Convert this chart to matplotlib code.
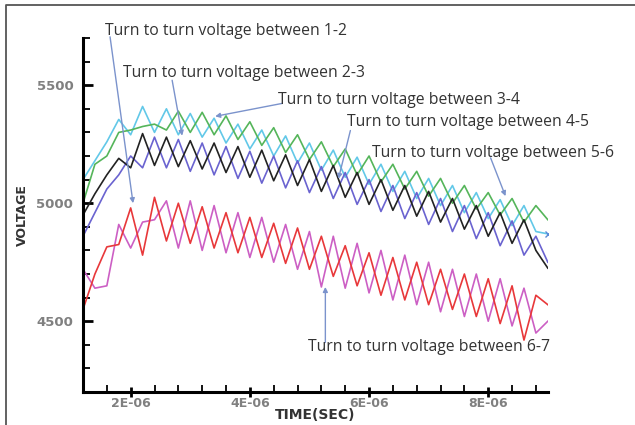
import matplotlib.pyplot as plt
from matplotlib.ticker import MultipleLocator

# time samples (microseconds) and turn-to-turn voltages
time_us = [1.2, 1.4, 1.6, 1.8, 2.0, 2.2, 2.4, 2.6, 2.8, 3.0,
           3.2, 3.4, 3.6, 3.8, 4.0, 4.2, 4.4, 4.6, 4.8, 5.0,
           5.2, 5.4, 5.6, 5.8, 6.0, 6.2, 6.4, 6.6, 6.8, 7.0,
           7.2, 7.4, 7.6, 7.8, 8.0, 8.2, 8.4, 8.6, 8.8, 9.0]

v_cyan = [5100, 5180, 5260, 5355, 5290, 5410, 5300, 5400, 5290, 5380,
          5280, 5360, 5255, 5335, 5230, 5310, 5200, 5285, 5170, 5255,
          5140, 5225, 5110, 5195, 5080, 5165, 5050, 5135, 5020, 5105,
          4990, 5075, 4960, 5045, 4935, 5015, 4905, 4990, 4880, 4870]
v_green = [5000, 5165, 5200, 5300, 5310, 5325, 5335, 5310, 5390, 5300,
           5385, 5290, 5370, 5270, 5345, 5245, 5320, 5215, 5290, 5185,
           5260, 5155, 5230, 5120, 5200, 5090, 5165, 5060, 5135, 5030,
           5105, 5000, 5075, 4975, 5045, 4950, 5020, 4920, 4990, 4930]
v_black = [4950, 5040, 5120, 5190, 5150, 5295, 5160, 5280, 5155, 5265,
           5145, 5255, 5130, 5240, 5110, 5225, 5095, 5205, 5075, 5185,
           5050, 5160, 5025, 5130, 4995, 5100, 4970, 5075, 4945, 5050,
           4920, 5020, 4890, 4990, 4860, 4960, 4830, 4930, 4800, 4725]
v_blue = [4860, 4960, 5060, 5120, 5200, 5150, 5280, 5150, 5270, 5135,
          5255, 5120, 5240, 5105, 5220, 5085, 5200, 5065, 5180, 5045,
          5155, 5020, 5130, 4995, 5100, 4965, 5075, 4935, 5045, 4910,
          5020, 4880, 4990, 4850, 4960, 4820, 4925, 4780, 4860, 4750]
v_red = [4550, 4700, 4815, 4825, 4980, 4780, 5025, 4840, 5000, 4830,
         4985, 4810, 4960, 4790, 4940, 4770, 4915, 4745, 4895, 4720,
         4860, 4690, 4820, 4650, 4790, 4610, 4770, 4590, 4750, 4570,
         4720, 4550, 4700, 4520, 4680, 4490, 4650, 4420, 4610, 4570]
v_magenta = [4720, 4640, 4650, 4910, 4810, 4920, 4930, 5010, 4810, 5010,
             4800, 4990, 4790, 4960, 4770, 4940, 4750, 4910, 4720, 4880,
             4645, 4860, 4640, 4830, 4620, 4800, 4590, 4780, 4570, 4750,
             4540, 4720, 4520, 4700, 4500, 4680, 4480, 4640, 4450, 4500]

xticks = [2e-6, 4e-6, 6e-6, 8e-6]
xtick_labels = ['2E-06', '4E-06', '6E-06', '8E-06']
yticks = [4500, 5000, 5500]
ytick_labels = ['4500', '5000', '5500']

t = [v * 1e-6 for v in time_us]

fig = plt.figure(figsize=(6.35, 4.25), dpi=100)
ax = fig.add_axes([0.1307, 0.0776, 0.732, 0.833])

ax.plot(t, v_magenta, color='#cc5fc4', lw=1.2)
ax.plot(t, v_red, color='#e8383a', lw=1.2)
ax.plot(t, v_cyan, color='#62c8e8', lw=1.2)
ax.plot(t, v_green, color='#55b55a', lw=1.2)
ax.plot(t, v_blue, color='#6a63d0', lw=1.2)
ax.plot(t, v_black, color='#222222', lw=1.2)
ax.plot(t[-1:], v_cyan[-1:], 'x', color='#5a8ad8', ms=4, mew=1)

ax.set_xlim(1.2e-6, 9.0e-6)
ax.set_ylim(4200, 5700)
for s in ['top', 'right']:
    ax.spines[s].set_visible(False)
for s in ['left', 'bottom']:
    ax.spines[s].set_linewidth(2.2)

ax.set_xticks(xticks)
ax.set_xticklabels(xtick_labels)
ax.set_yticks(yticks)
ax.set_yticklabels(ytick_labels)
ax.xaxis.set_minor_locator(MultipleLocator(0.4e-6))
ax.yaxis.set_minor_locator(MultipleLocator(100))
ax.tick_params(axis='x', which='major', direction='inout', length=7, width=2, pad=0)
ax.tick_params(axis='y', which='major', direction='in', length=7, width=2, pad=7)
ax.tick_params(which='minor', direction='in', length=5, width=1.3)
ax.tick_params(axis='y', labelsize=9.5, labelcolor='#808080')
ax.tick_params(axis='x', labelsize=9, labelcolor='#808080')
for lab in ax.get_xticklabels() + ax.get_yticklabels():
    lab.set_fontweight('bold')

ax.set_xlabel('TIME(SEC)', fontsize=10, fontweight='bold', color='#333333')
ax.xaxis.set_label_coords(0.5, -0.064)
ax.xaxis.label.set_va('center')
ax.set_ylabel('VOLTAGE', fontsize=9, fontweight='bold', color='#333333')
ax.yaxis.set_label_coords(-0.131, 0.5)
ax.yaxis.label.set_va('center')

# labels with arrows (data coordinates, microseconds * 1e-6)
notes = [
    ('Turn to turn voltage between 1-2', (1.57, 5731), (1.654, 5705), (2.04, 5000)),
    ('Turn to turn voltage between 2-3', (1.872, 5551), (2.696, 5521), (2.864, 5286)),
    ('Turn to turn voltage between 3-4', (4.477, 5436), (4.545, 5423), (3.418, 5368)),
    ('Turn to turn voltage between 4-5', (5.637, 5342), (5.687, 5308), (5.486, 5103)),
    ('Turn to turn voltage between 5-6', (6.057, 5214), (8.04, 5192), (8.29, 5030)),
    ('Turn to turn voltage between 6-7', (4.98, 4389), (5.267, 4410), (5.267, 4645)),
]
for txt, pos, start, tip in notes:
    ax.annotate('', xy=(tip[0] * 1e-6, tip[1]), xytext=(start[0] * 1e-6, start[1]),
                arrowprops=dict(arrowstyle='-|>', color='#7b93cc', lw=1.0,
                                mutation_scale=7, shrinkA=0, shrinkB=0),
                annotation_clip=False)
    ax.text(pos[0] * 1e-6, pos[1], txt, fontsize=11.3, family='Open Sans',
            color='#333333', ha='left', va='center', clip_on=False)

# grey frame lines on the left and top of the picture
fig.add_artist(plt.Line2D([6 / 635, 6 / 635, 1.0], [0.0, 1 - 5 / 425, 1 - 5 / 425],
                          transform=fig.transFigure, color='#555555', lw=1.3))

fig.savefig('out.png', dpi=100)
